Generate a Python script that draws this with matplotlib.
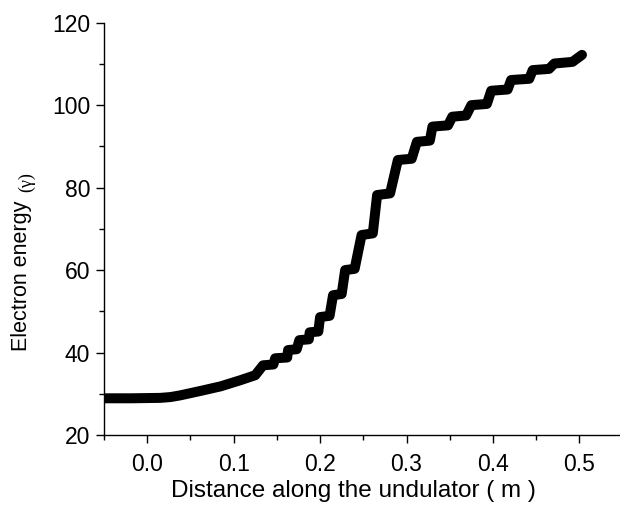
import matplotlib
matplotlib.use('Agg')
import matplotlib.pyplot as plt
from matplotlib.ticker import MultipleLocator

plt.rcParams['font.family'] = ['Liberation Sans', 'DejaVu Sans']

# distance along the undulator (m) and electron energy (gamma)
distance = [-0.049, -0.019, 0.015, 0.027, 0.038, 0.062, 0.085, 0.108, 0.125,
            0.134, 0.146, 0.148, 0.162, 0.163, 0.173, 0.176, 0.187, 0.188, 0.198,
            0.200, 0.211, 0.215, 0.225, 0.229, 0.240, 0.248, 0.261, 0.266, 0.281,
            0.290, 0.306, 0.312, 0.327, 0.330, 0.348, 0.353, 0.369, 0.375, 0.393,
            0.398, 0.417, 0.421, 0.442, 0.446, 0.465, 0.471, 0.492, 0.503]
energy = [28.9, 28.9, 29.0, 29.2, 29.6, 30.7, 31.8, 33.3, 34.5,
          36.9, 37.1, 38.6, 38.8, 40.6, 40.8, 43.0, 43.2, 44.9, 45.1,
          48.6, 48.9, 53.9, 54.2, 60.0, 60.3, 68.5, 68.9, 78.2, 78.6,
          86.7, 87.0, 91.1, 91.4, 94.8, 95.1, 97.2, 97.5, 100.0, 100.3,
          103.5, 103.8, 106.1, 106.4, 108.5, 108.8, 110.1, 110.5, 112.2]

fig = plt.figure(figsize=(6.2, 5.16), dpi=100)
ax = fig.add_axes([0.1677, 0.157, 0.8323, 0.799])

ax.plot(distance, energy, color='black', lw=7.2, solid_capstyle='round',
        solid_joinstyle='round')

ax.set_xlim(-0.05, 0.547)
ax.set_ylim(20, 120)
ax.xaxis.set_major_locator(MultipleLocator(0.1))
ax.xaxis.set_minor_locator(MultipleLocator(0.05))
ax.yaxis.set_major_locator(MultipleLocator(20))
ax.yaxis.set_minor_locator(MultipleLocator(10))
ax.xaxis.set_major_formatter(plt.FormatStrFormatter('%.1f'))

ax.spines['top'].set_visible(False)
ax.spines['right'].set_visible(False)
for s in ('left', 'bottom'):
    ax.spines[s].set_linewidth(1.0)

ax.tick_params(which='major', direction='out', length=6, width=1.0, labelsize=16.5)
ax.tick_params(which='minor', direction='out', length=3.5, width=1.0)
ax.tick_params(axis='x', which='major', pad=7)
ax.tick_params(axis='y', which='major', pad=4)

ax.set_xlabel('Distance along the undulator ( m )', fontsize=17.5)
ax.xaxis.set_label_coords(0.483, -0.11)
ax.set_ylabel('Electron energy', fontsize=15.5)
ax.yaxis.set_label_coords(-0.14, 0.385)
fig.text(0.043, 0.648, '(\u03b3)', rotation=90, fontsize=13,
         family=['Liberation Serif', 'DejaVu Serif'], ha='center', va='center')

fig.savefig('out.png', dpi=100)
